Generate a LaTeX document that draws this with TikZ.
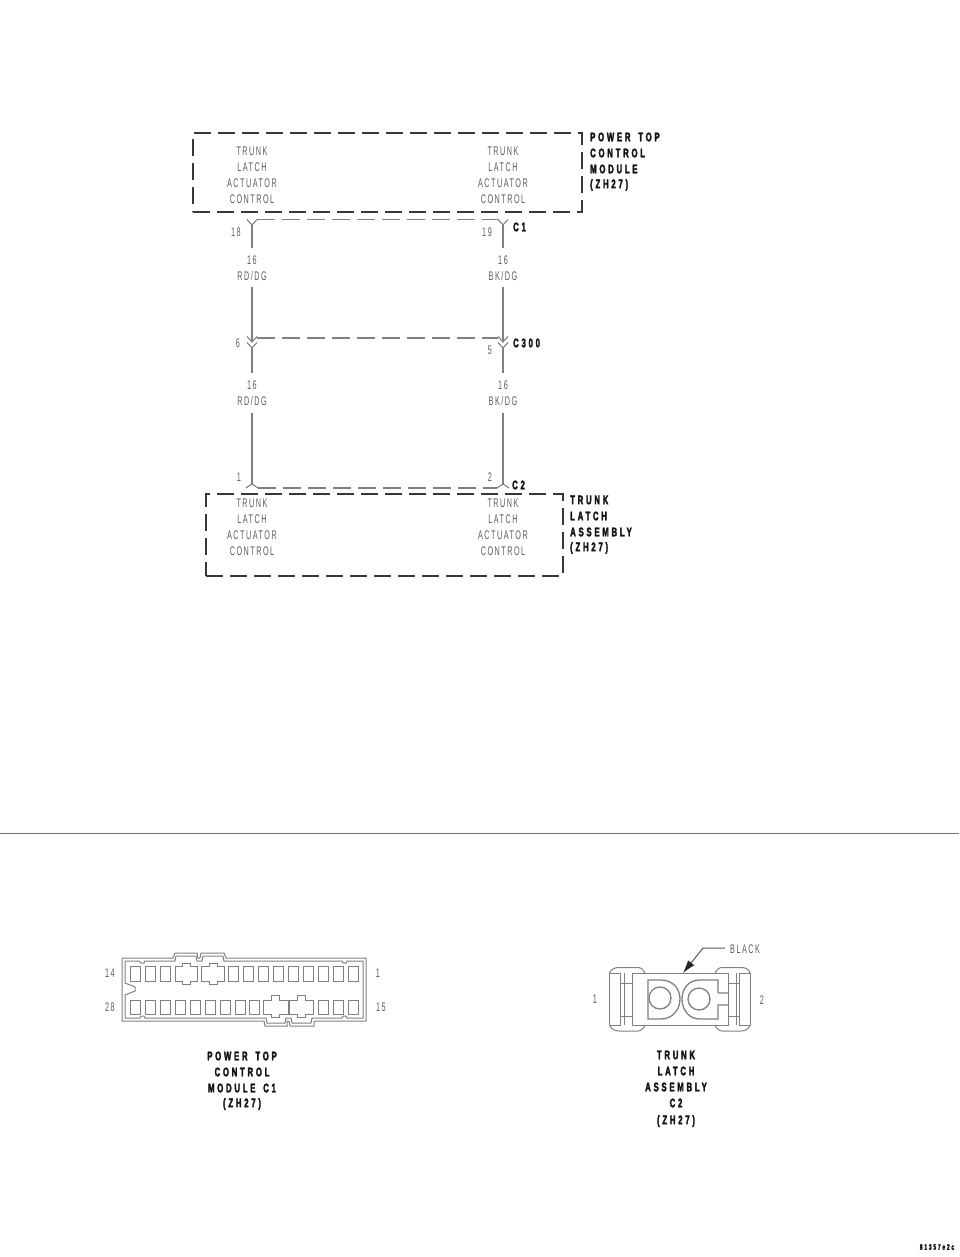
\documentclass[tikz,border=0pt]{standalone}
\usepackage{fontspec}
\newfontfamily\lblfont[FakeStretch=0.58,LetterSpace=12,WordSpace=1.5]{Liberation Sans}
\newfontfamily\hdfont[FakeStretch=0.62,LetterSpace=22,WordSpace=1.6,FakeBold=2.5]{Liberation Sans Bold}
\usetikzlibrary{arrows.meta}
\definecolor{wirec}{gray}{0.5}
\definecolor{lblc}{gray}{0.36}
\definecolor{boxc}{gray}{0.22}
\definecolor{hdc}{gray}{0.08}
\definecolor{drawc}{gray}{0.5}
\tikzset{
  lbl/.style={font=\lblfont\fontsize{12.5}{14}\selectfont,text=lblc,inner sep=0pt},
  hd/.style={font=\hdfont\fontsize{12.5}{14}\selectfont,text=hdc,inner sep=0pt},
  hdl/.style={hd,anchor=west},
  wire/.style={draw=wirec,line width=1.4pt},
  term/.style={draw=wirec,line width=1.1pt},
  shield/.style={draw=wirec,line width=1.3pt,dash pattern=on 18pt off 7pt},
  modbox/.style={draw=boxc,line width=1.7pt,dash pattern=on 17pt off 7pt,inner sep=0pt,fill=none},
  conn/.style={draw=drawc,line width=1pt},
}
\begin{document}
\begin{tikzpicture}[x=1pt,y=-1pt]
\useasboundingbox (0,0) rectangle (960,1257);
\fill[white] (0,0) rectangle (960,1257);
% module boxes
\node[modbox,minimum width=389.5pt,minimum height=79pt] (pm) at (387.5,172.5) {};
\node[modbox,minimum width=357pt,minimum height=82pt] (tl) at (384.5,535) {};
% wire coordinates
\coordinate (c1l) at (252,225); \coordinate (c1r) at (503,225);
\coordinate (w1l) at (252,248); \coordinate (w1r) at (503,248);
\coordinate (w2l) at (252,287); \coordinate (w2r) at (503,287);
\coordinate (c3l) at (252,342); \coordinate (c3r) at (503,342);
\coordinate (c3lb) at (252,348); \coordinate (c3rb) at (503,348);
\coordinate (w3l) at (252,373); \coordinate (w3r) at (503,373);
\coordinate (w4l) at (252,413); \coordinate (w4r) at (503,413);
\coordinate (c2l) at (252,484); \coordinate (c2r) at (503,484);
\foreach \a/\b in {c1l/w1l,c1r/w1r,w2l/c3l,w2r/c3r,c3lb/w3l,c3rb/w3r,w4l/c2l,w4r/c2r}
  \draw[wire] (\a) -- (\b);
\foreach \n in {c1l,c1r,c3l,c3r,c3lb,c3rb}
  \draw[term] ([shift={(-5,-5.5)}]\n) -- (\n) -- ([shift={(5,-5.5)}]\n);
\foreach \n in {c2l,c2r}
  \draw[term] ([shift={(-6,4)}]\n) -- (\n) -- ([shift={(6,4)}]\n);
% shield lines
\draw[shield] ([shift={(5,-5.5)}]c1l) -- ([shift={(-5,-5.5)}]c1r);
\draw[shield] ([shift={(5,-4)}]c3l) -- ([shift={(-5,-4)}]c3r);
\draw[shield] ([shift={(6,4)}]c2l) -- ([shift={(-6,4)}]c2r);
% function labels
\foreach \x/\p in {252/a,503/b}{
  \node[lbl] (t1\p) at (\x,151) {TRUNK};
  \node[lbl] (t2\p) at (\x,167) {LATCH};
  \node[lbl] (t3\p) at (\x,183) {ACTUATOR};
  \node[lbl] (t4\p) at (\x,199) {CONTROL};
  \node[lbl] (b1\p) at (\x,503) {TRUNK};
  \node[lbl] (b2\p) at (\x,519) {LATCH};
  \node[lbl] (b3\p) at (\x,535) {ACTUATOR};
  \node[lbl] (b4\p) at (\x,551) {CONTROL};
  \node[lbl] (g1\p) at (\x,260) {16};
  \node[lbl] (g2\p) at (\x,385) {16};
}
\node[lbl] (n18) at (236,232.5) {18};
\node[lbl] (n19) at (487,232.5) {19};
\node[lbl] (rd1) at (252,276) {RD/DG};
\node[lbl] (bk1) at (503,276) {BK/DG};
\node[lbl] (n6) at (238,343) {6};
\node[lbl] (n5) at (490,350) {5};
\node[lbl] (rd2) at (252,401) {RD/DG};
\node[lbl] (bk2) at (503,401) {BK/DG};
\node[lbl] (n1) at (239,477) {1};
\node[lbl] (n2) at (490,477) {2};
% headings
\node[hdl] (h1) at (590,137) {POWER TOP};
\node[hdl] (h2) at (590,153) {CONTROL};
\node[hdl] (h3) at (590,169) {MODULE};
\node[hdl] (h4) at (590,185) {(ZH27)};
\node[hdl] (h5) at (570,500) {TRUNK};
\node[hdl] (h6) at (570,516) {LATCH};
\node[hdl] (h7) at (570,532) {ASSEMBLY};
\node[hdl] (h8) at (570,548) {(ZH27)};
\node[hdl] (cc1) at (513,227) {C1};
\node[hdl] (cc3) at (513,343) {C300};
\node[hdl] (cc2) at (512,485) {C2};
% separator
\coordinate (sepa) at (0,833); \coordinate (sepb) at (959,833);
\draw[draw=gray!90!black,line width=1pt] (sepa) -- (sepb);
% connector C1
\draw[conn] (122,958) -- (173,958) -- (175,953) -- (197,953) -- (198,958) -- (200,958) -- (201,953) -- (224,953) -- (226,958) -- (366,958) -- (366,1021) -- (314,1021) -- (314,1026) -- (290,1026) -- (289,1021) -- (287,1021) -- (287,1026) -- (265,1026) -- (264,1021) -- (122,1021) -- cycle;
\draw[conn] (125,961) -- (139,961) -- (141,963) -- (144,963) -- (145,961) -- (175,961) -- (176,956) -- (196,956) -- (197,961) -- (202,961) -- (203,956) -- (223,956) -- (224,961) -- (342,961) -- (343,963) -- (346,963) -- (347,961) -- (363,961) -- (363,1018) -- (347,1018) -- (346,1016) -- (343,1016) -- (342,1018) -- (312,1018) -- (311,1023) -- (292,1023) -- (291,1018) -- (286,1018) -- (285,1023) -- (267,1023) -- (266,1018) -- (145,1018) -- (144,1016) -- (141,1016) -- (140,1018) -- (125,1018) -- (125,995) -- (135,991) -- (135,987) -- (125,983) -- cycle;
\foreach \x in {130,145,160,228,243,258,273,288,303,318,333,348}
  \draw[conn] (\x,966) rectangle ++(10.5,15);
\foreach \x in {130,145,160,175,190,205,220,235,249,318,333,348}
  \draw[conn] (\x,1000) rectangle ++(10.5,14);
\foreach \x/\d in {175/7,201.5/7.5}
  \draw[conn] (\x,966) -- ++(\d,0) -- ++(0,-3) -- ++(8,0) -- ++(0,3) -- ++(\d,0) -- ++(0,15) -- ++(-\d,0) -- ++(0,3) -- ++(-8,0) -- ++(0,-3) -- ++(-\d,0) -- cycle;
\foreach \x/\d in {263/8.5,289/8}
  \draw[conn] (\x,1000) -- ++(\d,0) -- ++(0,-5) -- ++(8,0) -- ++(0,5) -- ++(\d,0) -- ++(0,14) -- ++(-\d,0) -- ++(0,3) -- ++(-8,0) -- ++(0,-3) -- ++(-\d,0) -- cycle;
\node[lbl] (p14) at (110,973) {14};
\node[lbl] (p28) at (110,1007) {28};
\node[lbl] (p1) at (378,973) {1};
\node[lbl] (p15) at (381,1007) {15};
\node[hd] (ca1) at (242,1056) {POWER TOP};
\node[hd] (ca2) at (242,1072) {CONTROL};
\node[hd] (ca3) at (242,1088) {MODULE C1};
\node[hd] (ca4) at (242,1104) {(ZH27)};
% connector C2
\draw[conn] (632,973) rectangle (728,1025);
\draw[conn] (609.5,973) rectangle (620.5,1025);
\draw[conn] (739.5,973) rectangle (750,1025);
\draw[conn] (609.5,973) .. controls (611,969) and (615,967.5) .. (619,967.5) -- (638,967.5) .. controls (641,967.5) and (644,970) .. (645,973);
\draw[conn] (609.5,1025) .. controls (611,1029) and (615,1031) .. (619,1031) -- (638,1031) .. controls (641,1031) and (644,1028) .. (645,1025);
\draw[conn] (750,973) .. controls (749,969) and (745,967.5) .. (741,967.5) -- (722,967.5) .. controls (719,967.5) and (716,970) .. (715,973);
\draw[conn] (750,1025) .. controls (749,1029) and (745,1031) .. (741,1031) -- (722,1031) .. controls (719,1031) and (716,1028) .. (715,1025);
\draw[conn] (620.5,983) -- (632,983) (620.5,1016) -- (632,1016) (728,983) -- (739.5,983) (728,1016) -- (739.5,1016);
\draw[conn] (624,973) -- (624,1025) (736,973) -- (736,1025);
\draw[conn,line width=1.3pt] (648,980) -- (661,980) .. controls (673,980) and (680,989) .. (680,999) .. controls (680,1010) and (672,1019) .. (661,1019) -- (648,1019) -- cycle;
\draw[conn,line width=1.3pt] (718,993) -- (718,980) -- (700,980) .. controls (688,980) and (682,989) .. (682,999) .. controls (682,1010) and (689,1019) .. (700,1019) -- (718,1019) -- (718,1005) -- (728,1005) (728,993) -- (718,993);
\draw[conn,line width=1.3pt] (660,998) circle (11);
\draw[conn,line width=1.3pt] (699,999) circle (11);
\coordinate (blk) at (683,973);
\node[lbl,anchor=west] (black) at (730,949) {BLACK};
\draw[draw=drawc!70!black,line width=1pt,-{Latex[length=13pt,width=8pt,black!85]}] (black.west) ++(-5,-1) -- (703,948) -- (blk);
\node[lbl] (pa) at (595,999) {1};
\node[lbl] (pb) at (762,1000) {2};
\node[hd] (cb1) at (676,1055) {TRUNK};
\node[hd] (cb2) at (676,1071) {LATCH};
\node[hd] (cb3) at (676,1087) {ASSEMBLY};
\node[hd] (cb4) at (676,1103) {C2};
\node[hd] (cb5) at (676,1121) {(ZH27)};
\node[hd,font=\hdfont\fontsize{8}{9}\selectfont] (ref) at (937,1247) {81357e2c};
\end{tikzpicture}
\end{document}
